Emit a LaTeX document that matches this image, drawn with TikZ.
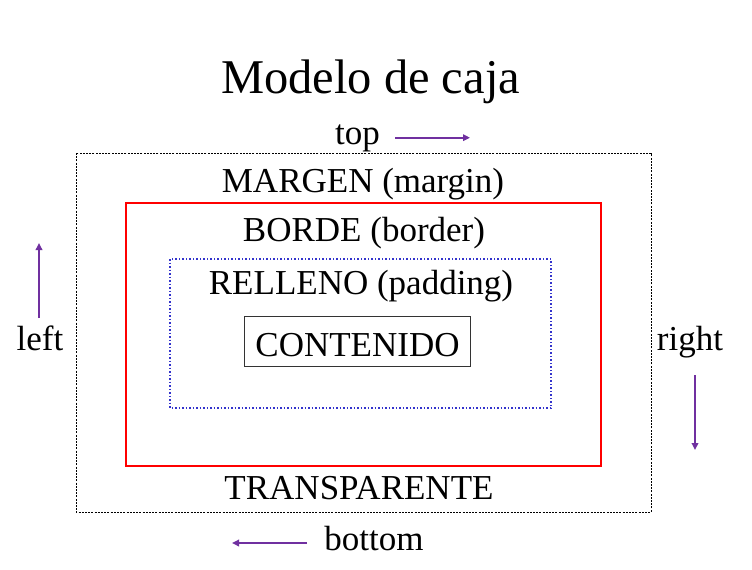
\documentclass[tikz,border=0pt]{standalone}
\usepackage{fontspec}
\setmainfont{Liberation Serif}
\usepackage{xcolor}
\definecolor{box-purple}{HTML}{7030A0}
\definecolor{box-blue}{HTML}{3333CC}
\definecolor{box-red}{HTML}{FF0000}
\usetikzlibrary{arrows.meta}

\tikzset{
    label text/.style={anchor=base, inner sep=0pt, font=\fontsize{35}{40}\selectfont},
    side arrow/.style={box-purple, line width=2.2pt, -{Triangle[length=7pt, width=6.5pt]}}
}

\begin{document}
\begin{tikzpicture}[x=1pt, y=-1pt]

    % Background
    \useasboundingbox (0, 0) rectangle (752, 570);

    % Title
    \node[anchor=base, inner sep=0pt, font=\fontsize{48.5}{54}\selectfont] (title) at (370.5, 93.3) {Modelo de caja};

    % Margin box
    \draw[black, line width=0.9pt, dash pattern=on 2pt off 1.2pt] (76, 153) rectangle (651, 512);

    % Border box
    \draw[box-red, line width=2.2pt] (126, 203) rectangle (601, 466);

    % Padding box
    \draw[box-blue, line width=1.5pt, dash pattern=on 1.5pt off 2pt] (170, 259) rectangle (551, 408);

    % Content box
    \draw[black!80, line width=0.9pt] (244.3, 316) rectangle (470, 366.7);

    % Labels
    \node[label text] (margen) at (363, 192.3) {MARGEN (margin)};
    \node[label text] (borde) at (364, 241.7) {BORDE (border)};
    \node[label text] (relleno) at (361, 294.3) {RELLENO (padding)};
    \node[label text] (contenido) at (357.5, 356.7) {CONTENIDO};
    \node[label text] (transparente) at (359, 499.3) {TRANSPARENTE};

    % Sides
    \node[label text] (top) at (357.5, 144) {top};
    \node[label text] (left) at (40, 350) {left};
    \node[label text] (right) at (690, 350) {right};
    \node[label text] (bottom) at (374, 550.7) {bottom};

    % Arrows
    \coordinate (top-a) at (395, 137.7);
    \coordinate (top-b) at (470, 137.7);
    \coordinate (left-a) at (39, 318);
    \coordinate (left-b) at (39, 243);
    \coordinate (right-a) at (695, 375);
    \coordinate (right-b) at (695, 450);
    \coordinate (bottom-a) at (307, 543);
    \coordinate (bottom-b) at (232, 543);
    \draw[side arrow] (top-a) -- (top-b);
    \draw[side arrow] (left-a) -- (left-b);
    \draw[side arrow] (right-a) -- (right-b);
    \draw[side arrow] (bottom-a) -- (bottom-b);

\end{tikzpicture}
\end{document}
